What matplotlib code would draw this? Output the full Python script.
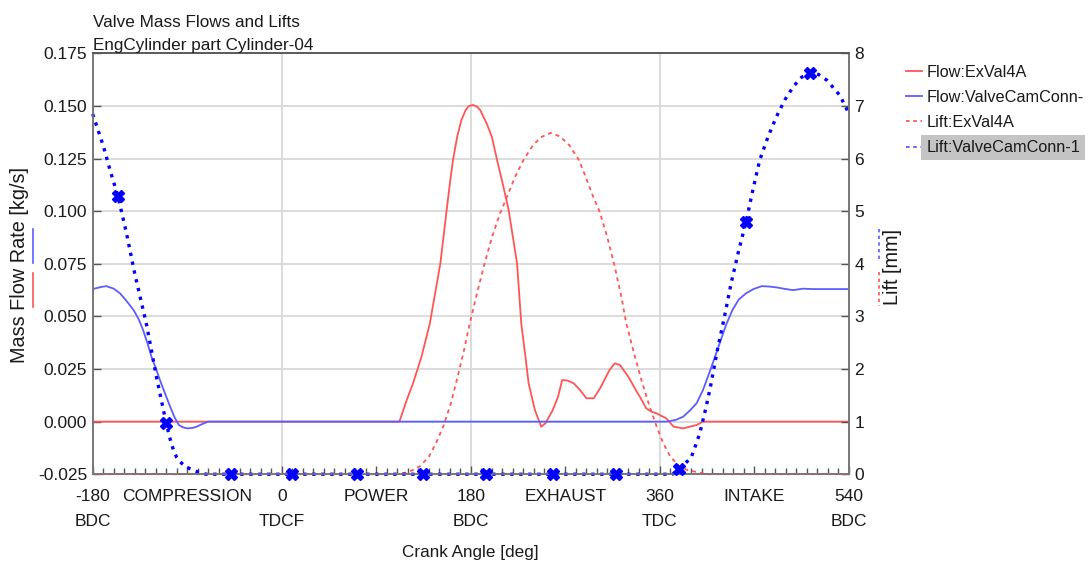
import numpy as np
import matplotlib
matplotlib.use("Agg")
import matplotlib.pyplot as plt
from matplotlib.lines import Line2D
from matplotlib.ticker import MultipleLocator

plt.rcParams['font.family'] = ['Liberation Sans', 'DejaVu Sans']

# crank angle tick positions and their two-line labels
tick_deg = [-180, -90, 0, 90, 180, 270, 360, 450, 540]
tick_labels = ['-180\nBDC', 'COMPRESSION', '0\nTDCF', 'POWER', '180\nBDC',
               'EXHAUST', '360\nTDC', 'INTAKE', '540\nBDC']
dead_centres = [0, 180, 360]

# Flow:ExVal4A  [kg/s]
ex_flow_deg = [-180, 112, 119, 125, 133, 141, 146, 151, 154, 157, 160, 163, 167, 171, 175,
               178, 182, 186, 189, 195, 200, 205, 211, 216, 220, 224, 226, 228, 232, 235, 241,
               247, 251, 258, 263, 267, 272, 278, 284, 290, 297, 303, 312, 317, 322,
               330, 338, 341, 347, 352, 357, 360, 366, 373, 382, 395, 401, 540]
ex_flow = [0, 0, 0.0103, 0.0182, 0.0308, 0.0467, 0.061, 0.0752, 0.0879, 0.1006, 0.113,
           0.1243, 0.1354, 0.1433, 0.148, 0.1500, 0.1505, 0.1497, 0.148, 0.1418, 0.1354,
           0.1243, 0.1117, 0.1006, 0.0879, 0.0752, 0.061, 0.0467, 0.0308, 0.0182, 0.0055,
           -0.0024, -0.0008, 0.0055, 0.0118, 0.0198, 0.0195, 0.0182, 0.015, 0.0111, 0.0111,
           0.0158, 0.0245, 0.0277, 0.0269, 0.0213, 0.0142, 0.0118, 0.0063, 0.0047, 0.0039,
           0.0031, 0.0016, -0.0024, -0.0032, -0.0016, 0, 0]

# Flow:ValveCamConn-1  [kg/s]
vcc_flow_deg = [-180, -172, -167, -160, -154, -148, -141, -136, -132, -128, -124, -120,
                -116, -111, -106, -102, -98, -94, -90, -85, -81, -76, -70, 366, 375, 382,
                389, 395, 401, 408, 415, 423, 429, 435, 442, 449, 457, 464, 471, 480, 487,
                496, 505, 540]
vcc_flow = [0.063, 0.064, 0.0644, 0.0632, 0.061, 0.0575, 0.053, 0.0485, 0.0435, 0.0375,
            0.0308, 0.0255, 0.0198, 0.0132, 0.0068, 0.002, -0.0016, -0.0027, -0.0032,
            -0.003, -0.0024, -0.0012, 0, 0, 0.0008, 0.0023, 0.0055, 0.0088, 0.015, 0.0245,
            0.0345, 0.046, 0.053, 0.058, 0.061, 0.063, 0.0644, 0.0642, 0.0638, 0.063,
            0.0625, 0.0632, 0.063, 0.063]

# Lift:ExVal4A  [mm]
ex_lift_deg = [-180, 110, 118, 125, 132, 140, 147, 154, 161, 168, 174, 179, 186, 193, 200,
               208, 215, 222, 230, 238, 246, 256, 265, 274, 283, 290, 296, 303, 310, 317,
               323, 328, 336, 343, 350, 357, 363, 370, 378, 386, 398, 405, 540]
ex_lift = [0, 0, 0.03, 0.08, 0.16, 0.33, 0.6, 0.92, 1.35, 1.9, 2.4, 2.87, 3.45, 4.0, 4.5,
           4.97, 5.3, 5.65, 5.97, 6.22, 6.4, 6.49, 6.42, 6.25, 5.97, 5.62, 5.3, 4.97, 4.5,
           3.95, 3.4, 2.87, 2.25, 1.75, 1.3, 0.9, 0.6, 0.33, 0.16, 0.08, 0.03, 0, 0]

# Lift:ValveCamConn-1  [mm]
vcc_lift_deg = [-180, -170, -163, -156, -148, -140, -134, -129, -124, -119, -114, -110,
                -106, -103, -100, -97, -92, -85, -78, -72, 372, 379, 384, 390, 394, 398,
                404, 408, 415, 421, 428, 435, 442, 449, 455, 463, 471, 479, 487, 495, 503,
                511, 519, 525, 531, 536, 540]
vcc_lift = [6.85, 6.25, 5.75, 5.29, 4.6, 3.82, 3.3, 2.87, 2.35, 1.82, 1.35, 0.97, 0.65,
            0.45, 0.32, 0.24, 0.15, 0.08, 0.03, 0, 0, 0.11, 0.2, 0.33, 0.55, 0.78, 1.28,
            1.65, 2.39, 2.95, 3.65, 4.25, 4.8, 5.45, 5.97, 6.42, 6.8, 7.12, 7.37, 7.55,
            7.63, 7.6, 7.49, 7.35, 7.21, 7.02, 6.85]
vcc_marker_deg = [-156, -110, -48, 10, 72, 134, 194, 258, 318, 378, 442, 503]

RED = '#ff5555'
BLUE_FLOW = '#5c5cff'
BLUE_LIFT = '#0000ff'
GRID = '#d9d9d9'
TXT = '#1a1a1a'

fig = plt.figure(figsize=(10.89, 5.68), dpi=100)
ax = fig.add_axes([0.0851, 0.1651, 0.6945, 0.7408])
ax2 = ax.twinx()

ax.plot(ex_flow_deg, ex_flow, color=RED, lw=1.3, label='Flow:ExVal4A')
ax.plot(vcc_flow_deg, vcc_flow, color=BLUE_FLOW, lw=1.3, label='Flow:ValveCamConn-')

ax2.plot(ex_lift_deg, ex_lift, color=RED, lw=1.3, ls=(0, (2.2, 2.2)),
         label='Lift:ExVal4A', clip_on=False)
ax2.plot(vcc_lift_deg, vcc_lift, color=BLUE_LIFT, lw=2.4, ls=(0, (1.0, 1.7)),
         dash_capstyle='butt', label='Lift:ValveCamConn-1', clip_on=False)
marker_lift = np.interp(vcc_marker_deg, vcc_lift_deg, vcc_lift)
ax2.plot(vcc_marker_deg, marker_lift, ls='none', marker='X', ms=8.5, mfc=BLUE_LIFT,
         mec=BLUE_LIFT, mew=1.0, clip_on=False, zorder=5)

ax.set_xlim(-180, 540)
ax.set_ylim(-0.025, 0.175)
ax2.set_ylim(0, 8)

ax.set_xticks(tick_deg, tick_labels)
ax.xaxis.set_minor_locator(MultipleLocator(10))
for t in ax.get_xticklabels():
    t.set_linespacing(1.85)
ax.set_yticks(np.arange(-0.025, 0.176, 0.025))
ax.yaxis.set_major_formatter(plt.FormatStrFormatter('%.3f'))
ax2.set_yticks(range(0, 9))

ax.tick_params(axis='x', which='major', direction='in', length=6, width=1,
               color='#555555', labelsize=12.5, labelcolor=TXT, pad=10.5)
ax.tick_params(axis='x', which='minor', direction='in', length=4, width=1,
               color='#555555')
ax.tick_params(axis='y', direction='in', length=6, width=1, color='#555555',
               labelsize=12.5, labelcolor=TXT, pad=4)
ax2.tick_params(axis='y', direction='in', length=6, width=1, color='#555555',
                labelsize=12.5, labelcolor=TXT, pad=4)

ax.grid(axis='y', color=GRID, lw=1.3)
for d in dead_centres:
    ax.axvline(d, color=GRID, lw=1.3, zorder=0)
ax.set_axisbelow(True)

for a in (ax, ax2):
    for s in a.spines.values():
        s.set_color('#777777')
        s.set_linewidth(1.2)
ax2.spines['top'].set_color('#555555')

# titles
fig.text(93 / 1089, 1 - 27 / 568, 'Valve Mass Flows and Lifts', fontsize=12.3,
         color=TXT, va='baseline')
fig.text(93 / 1089, 1 - 50 / 568, 'EngCylinder part Cylinder-04', fontsize=12.3,
         color=TXT, va='baseline')

# axis labels with series colour keys
fig.text(470 / 1089, 1 - 552 / 568, 'Crank Angle [deg]', fontsize=12.3, color=TXT,
         ha='center', va='center')
fig.text(20 / 1089, 1 - 265 / 568, 'Mass Flow Rate [kg/s]', fontsize=14.3, color=TXT,
         rotation=90, ha='center', va='center')
fig.text(893 / 1089, 1 - 267 / 568, 'Lift [mm]', fontsize=14.3, color=TXT,
         rotation=90, ha='center', va='center')
fig.add_artist(Line2D([33 / 1089] * 2, [1 - 229 / 568, 1 - 263 / 568],
                      transform=fig.transFigure, color=BLUE_FLOW, lw=1.2))
fig.add_artist(Line2D([33 / 1089] * 2, [1 - 273 / 568, 1 - 307 / 568],
                      transform=fig.transFigure, color=RED, lw=1.2))
fig.add_artist(Line2D([879 / 1089] * 2, [1 - 229 / 568, 1 - 262 / 568],
                      transform=fig.transFigure, color=BLUE_FLOW, lw=1.2,
                      ls=(0, (2, 2))))
fig.add_artist(Line2D([879 / 1089] * 2, [1 - 272 / 568, 1 - 306 / 568],
                      transform=fig.transFigure, color=RED, lw=1.2, ls=(0, (2, 2))))

# legend
h1, l1 = ax.get_legend_handles_labels()
h2, l2 = ax2.get_legend_handles_labels()
key_handles = [Line2D([], [], color=RED, lw=1.3),
               Line2D([], [], color=BLUE_FLOW, lw=1.3),
               Line2D([], [], color=RED, lw=1.3, ls=(0, (2, 2))),
               Line2D([], [], color=BLUE_FLOW, lw=1.3, ls=(0, (2, 2)))]
leg = fig.legend(key_handles, l1 + l2, loc='upper left',
                 bbox_to_anchor=(906 / 1089, 1 - 65 / 568), frameon=False,
                 fontsize=11.7, handlelength=1.0, handletextpad=0.25,
                 labelspacing=0.62, borderpad=0, borderaxespad=0)
for t in leg.get_texts():
    t.set_color(TXT)
leg.get_texts()[3].set_bbox(dict(boxstyle='square,pad=0.3', fc='#c4c4c4', ec='none'))

fig.savefig('out.png', dpi=100)
